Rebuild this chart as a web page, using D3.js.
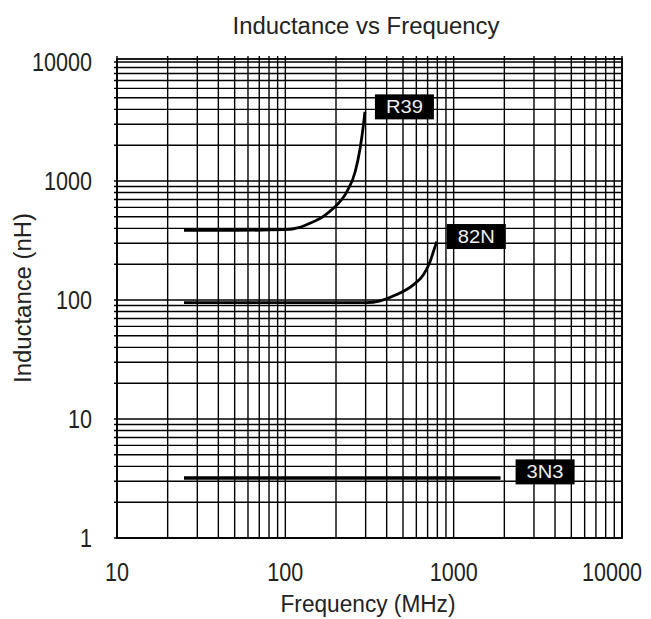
<!DOCTYPE html>
<html>
<head>
<meta charset="utf-8">
<script src="https://cdnjs.cloudflare.com/ajax/libs/d3/7.8.5/d3.min.js"></script>
<style>
  body { margin: 0; background: #fff; }
  text { font-family: "Liberation Sans", Arial, sans-serif; }
</style>
</head>
<body>
<svg id="mainSvg" width="651" height="619"></svg>
<script>
// values
let xTicks = [10, 100, 1000, 10000];
let yTicks = [1, 10, 100, 1000, 10000];

let r39Freq = [25, 50, 100, 120, 140, 170, 193, 232, 260, 278, 291, 297];
let r39Ind  = [385, 385, 390, 405, 441, 510, 589, 813, 1196, 1876, 2946, 3810];

let n82Freq = [25, 100, 305, 366, 459, 576, 661, 724, 775, 794];
let n82Ind  = [95, 95, 95, 98.5, 111, 134, 163, 210, 281, 310];

let n3Freq = [25, 1900];
let n3Ind  = [3.2, 3.2];

let seriesNames = ["R39", "82N", "3N3"];

let margin = {left: 117, right: 29, top: 59, bottom: 81};
let width;
let height;
let x;
let y;

function initMainSvg() {
    let canvas = d3.select("#mainSvg");
    width = parseInt(canvas.attr("width"));
    height = parseInt(canvas.attr("height"));

    x = d3.scaleLog().domain([10, 10000]).range([margin.left, width - margin.right]);
    y = d3.scaleLog().domain([1, 10000]).range([height - margin.bottom, 62]);

    drawGrid(canvas);
    drawAxes(canvas);
    drawSeries(canvas);
}

function minorValues(lo, hi) {
    let out = [];
    for (let d = lo; d < hi; d *= 10) {
        for (let k = 1; k <= 9; k++) out.push(d * k);
    }
    out.push(hi);
    return out;
}

function drawGrid(canvas) {
    let g = canvas.append("g").attr("stroke", "#000").attr("stroke-width", 1.4);
    let top = margin.top;
    let bottom = height - margin.bottom;

    g.selectAll("line.v")
        .data(minorValues(10, 10000))
        .enter()
            .append("line")
            .attr("x1", d => x(d))
            .attr("x2", d => x(d))
            .attr("y1", top - 3)
            .attr("y2", bottom);

    g.selectAll("line.h")
        .data(minorValues(1, 10000))
        .enter()
            .append("line")
            .attr("x1", margin.left - 3)
            .attr("x2", width - margin.right)
            .attr("y1", d => y(d))
            .attr("y2", d => y(d));

    canvas.append("rect")
        .attr("x", margin.left)
        .attr("y", top)
        .attr("width", width - margin.right - margin.left)
        .attr("height", bottom - top)
        .attr("fill", "none")
        .attr("stroke", "#000")
        .attr("stroke-width", 1.8);
}

// squeezes text to the narrow look of the original
function narrow(sel, len) {
    sel.attr("textLength", len).attr("lengthAdjust", "spacingAndGlyphs");
}

function drawAxes(canvas) {
    let fmt = d3.format("d");

    canvas.selectAll("text.xt")
        .data(xTicks)
        .enter()
            .append("text")
            .attr("x", d => Math.min(x(d), 612))
            .attr("y", 581)
            .attr("text-anchor", "middle")
            .attr("font-size", 25)
            .attr("fill", "#222")
            .attr("textLength", d => fmt(d).length * 12)
            .attr("lengthAdjust", "spacingAndGlyphs")
            .text(d => fmt(d));

    canvas.selectAll("text.yt")
        .data(yTicks)
        .enter()
            .append("text")
            .attr("x", 92)
            .attr("y", d => y(d) + 9)
            .attr("text-anchor", "end")
            .attr("font-size", 25)
            .attr("fill", "#222")
            .attr("textLength", d => fmt(d).length * 12)
            .attr("lengthAdjust", "spacingAndGlyphs")
            .text(d => fmt(d));

    canvas.append("text")
        .attr("x", 366)
        .attr("y", 34)
        .attr("text-anchor", "middle")
        .attr("font-size", 23)
        .attr("fill", "#222")
        .text("Inductance vs Frequency")
        .call(narrow, 267);

    canvas.append("text")
        .attr("x", 368)
        .attr("y", 612)
        .attr("text-anchor", "middle")
        .attr("font-size", 23)
        .attr("fill", "#222")
        .text("Frequency (MHz)")
        .call(narrow, 175);

    canvas.append("text")
        .attr("transform", "translate(31,298) rotate(-90)")
        .attr("text-anchor", "middle")
        .attr("font-size", 23)
        .attr("fill", "#222")
        .text("Inductance (nH)")
        .call(narrow, 170);
}

function drawSeries(canvas) {
    let all = [
        {name: seriesNames[0], f: r39Freq, l: r39Ind, w: 2.8},
        {name: seriesNames[1], f: n82Freq, l: n82Ind, w: 2.8},
        {name: seriesNames[2], f: n3Freq, l: n3Ind, w: 3.5}
    ];

    let line = d3.line()
        .x(d => x(d[0]))
        .y(d => y(d[1]))
        .curve(d3.curveMonotoneX);

    all.forEach(s => {
        let pts = s.f.map((f, i) => [f, s.l[i]]);
        canvas.append("path")
            .datum(pts)
            .attr("d", line)
            .attr("fill", "none")
            .attr("stroke", "#000")
            .attr("stroke-width", s.w);

        let last = pts[pts.length - 1];
        let bx = x(last[0]) + 10 + (s.name == "3N3" ? 5 : 0);
        let by = y(last[1]) - 5 - (s.name == "3N3" ? 1 : 0);
        let lab = canvas.append("g").attr("transform", `translate(${bx},${by})`);
        lab.append("rect")
            .attr("x", 0)
            .attr("y", -12.5)
            .attr("width", 59)
            .attr("height", 25)
            .attr("fill", "#000");
        lab.append("text")
            .attr("x", 29.5)
            .attr("y", 6.5)
            .attr("text-anchor", "middle")
            .attr("font-size", 18)
            .attr("fill", "#eee")
            .text(s.name)
            .call(narrow, 37);
    });
}

initMainSvg();
</script>
</body>
</html>
